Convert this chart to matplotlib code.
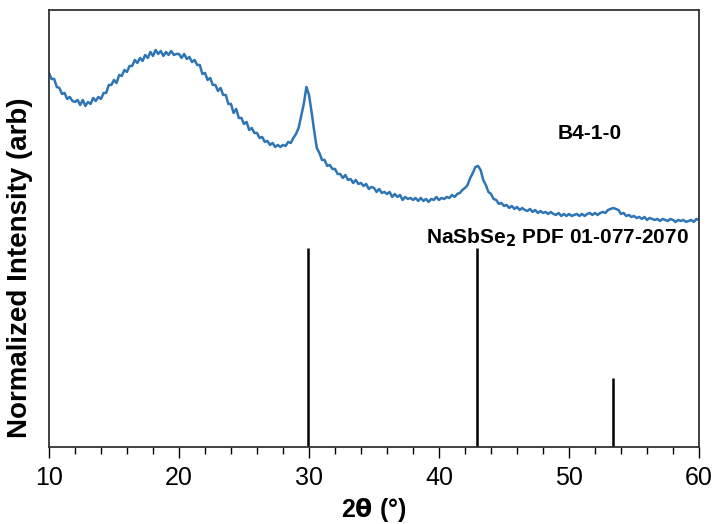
import matplotlib
matplotlib.use('Agg')

import numpy as np
import matplotlib.pyplot as plt
from matplotlib.ticker import MultipleLocator

plt.rcParams['font.family'] = ['Liberation Sans', 'DejaVu Sans']

# measured pattern, 2theta from 10 to 60 deg in steps of 0.2 deg (arb. units)
TTH_START = 10.0
TTH_STEP = 0.2
INTENSITY = [
  374, 368, 368, 360, 359, 353, 354, 348, 350, 346,
  345, 347, 342, 347, 341, 345, 343, 349, 346, 350,
  348, 354, 354, 362, 362, 367, 364, 372, 371, 377,
  375, 381, 381, 387, 384, 389, 386, 392, 389, 395,
  391, 397, 393, 396, 391, 395, 392, 396, 392, 393,
  393, 389, 393, 388, 390, 385, 387, 382, 382, 373,
  374, 367, 369, 362, 362, 356, 359, 352, 352, 343,
  343, 334, 338, 329, 329, 323, 325, 317, 319, 314,
  314, 309, 310, 305, 306, 302, 304, 300, 302, 300,
  302, 301, 305, 304, 309, 313, 319, 331, 343, 360,
  352, 335, 316, 299, 294, 287, 287, 281, 282, 278,
  278, 273, 273, 269, 272, 267, 268, 264, 267, 263,
  264, 261, 263, 258, 260, 259, 255, 258, 254, 255,
  253, 255, 250, 253, 250, 252, 247, 250, 248, 249,
  247, 249, 246, 249, 246, 248, 245, 248, 247, 250,
  247, 249, 248, 250, 249, 252, 250, 253, 254, 257,
  259, 262, 269, 274, 280, 281, 277, 267, 262, 255,
  253, 248, 247, 243, 244, 241, 242, 239, 241, 238,
  240, 237, 239, 237, 236, 238, 235, 237, 234, 236,
  234, 235, 233, 235, 233, 232, 234, 231, 233, 231,
  233, 231, 232, 233, 231, 233, 231, 233, 234, 232,
  234, 232, 234, 235, 234, 237, 238, 239, 238, 237,
  233, 234, 231, 232, 230, 231, 229, 230, 228, 230,
  227, 229, 228, 227, 228, 226, 228, 227, 226, 228,
  227, 225, 227, 226, 227, 225, 226, 227, 225, 228,
  227,
]
# reference pattern NaSbSe2 PDF 01-077-2070
REF_POS = [29.95, 42.95, 53.35]
REF_HEIGHT = [199, 199, 69]

tth = TTH_START + TTH_STEP * np.arange(len(INTENSITY))

fig = plt.figure(figsize = (7.16, 5.24), dpi = 100)
ax = fig.add_axes([0.0684, 0.147, 0.9079, 0.834])

ax.plot(tth, INTENSITY, color = '#2E75B6', lw = 1.8)
ax.vlines(REF_POS, 0, REF_HEIGHT, color = 'black', lw = 1.8)

ax.set_xlim(10, 60)
ax.set_ylim(0, 437)
ax.xaxis.set_major_locator(MultipleLocator(10))
ax.xaxis.set_minor_locator(MultipleLocator(2))
ax.set_yticks([])
ax.tick_params(axis = 'x', which = 'major', direction = 'out', length = 8, width = 1, labelsize = 18, pad = 6)
ax.tick_params(axis = 'x', which = 'minor', direction = 'out', length = 5, width = 1)
for sp in ax.spines.values():
  sp.set_linewidth(1.3)
  sp.set_color('#333333')

ax.set_xlabel(r'2$\mathbf{\theta}$ (°)', fontsize = 18, fontweight = 'bold', labelpad = 4)
ax.set_ylabel('Normalized Intensity (arb)', fontsize = 20, fontweight = 'bold')
ax.yaxis.set_label_coords(-0.025, 0.41)

fig.text(0.824, 0.746, 'B4-1-0', fontsize = 15, fontweight = 'bold', ha = 'center', va = 'center')
fig.text(0.778, 0.546, r'NaSbSe$_\mathbf{2}$ PDF 01-077-2070', fontsize = 15, fontweight = 'bold',
         ha = 'center', va = 'center')

fig.savefig('out.png', dpi = 100)
